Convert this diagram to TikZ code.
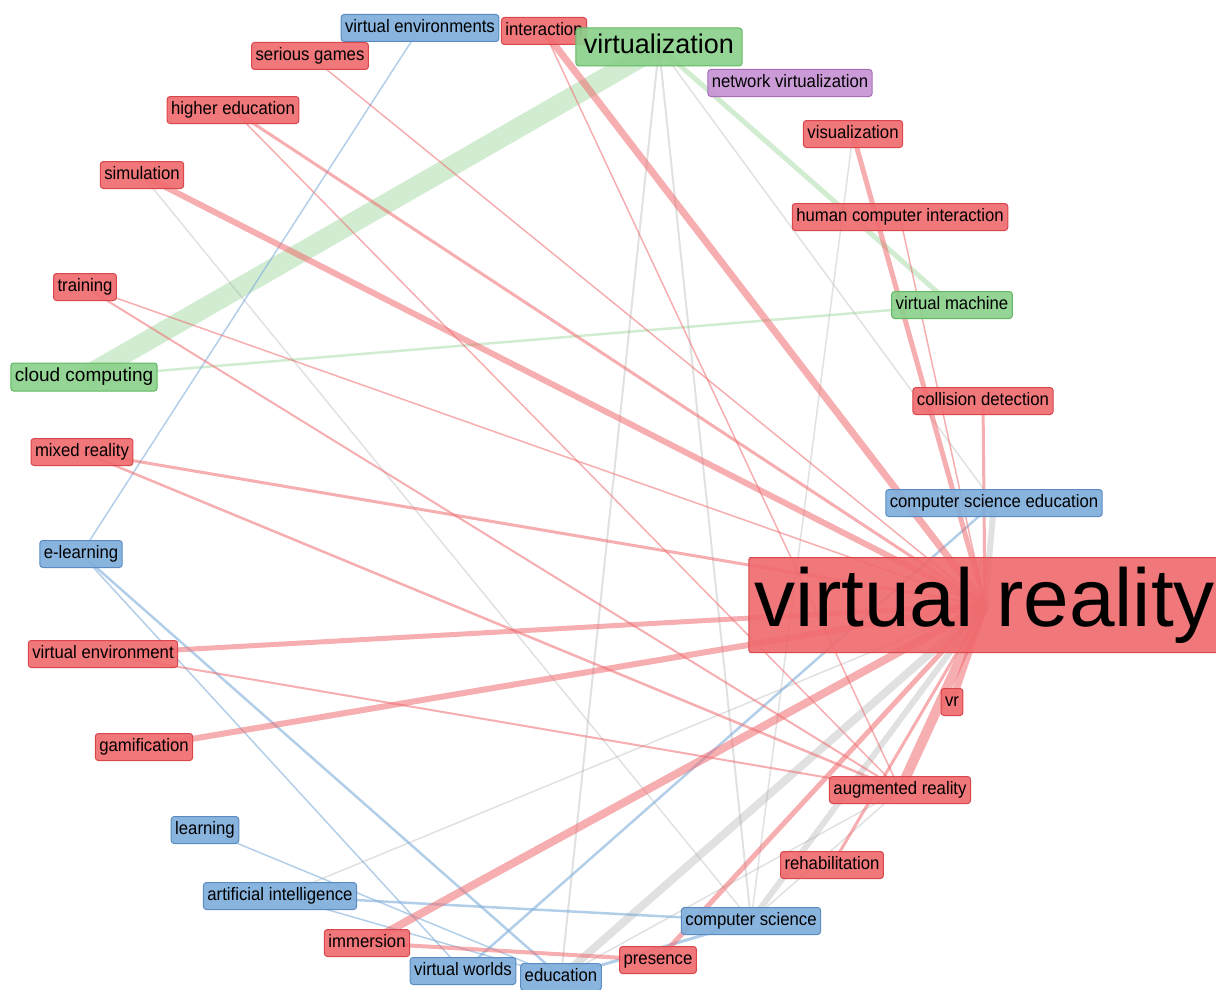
\documentclass[tikz,border=0pt]{standalone}
\usepackage{fontspec}
\setmainfont{Liberation Sans}
\newfontfamily\termfont[FakeStretch=0.93]{Liberation Sans}
\usetikzlibrary{backgrounds}
\definecolor{kwred}{HTML}{EF6B6F}
\definecolor{kwreddark}{HTML}{D9474D}
\definecolor{kwblue}{HTML}{7FAEDB}
\definecolor{kwbluedark}{HTML}{5A8CC2}
\definecolor{kwgreen}{HTML}{8BD08B}
\definecolor{kwgreendark}{HTML}{62B862}
\definecolor{kwpurple}{HTML}{C693D3}
\definecolor{kwpurpledark}{HTML}{A46FB6}
\definecolor{kwgray}{HTML}{A8A8A8}

\begin{document}
\begin{tikzpicture}[
    x=1pt, y=-1pt,
    term/.style={rectangle, rounded corners=3pt, line width=1pt, fill opacity=0.92, text opacity=1, inner xsep=4pt, inner ysep=0pt, minimum height=27pt, text height=13pt, text depth=3.5pt, font=\termfont\fontsize{18}{20}\selectfont},
    redterm/.style={term, draw=kwreddark, fill=kwred},
    blueterm/.style={term, draw=kwbluedark, fill=kwblue},
    greenterm/.style={term, draw=kwgreendark, fill=kwgreen},
    purpleterm/.style={term, draw=kwpurpledark, fill=kwpurple},
    bigterm/.style={font=\fontsize{27}{30}\selectfont, minimum height=38pt, text height=20pt, text depth=6pt, inner xsep=8pt},
    hugeterm/.style={font=\fontsize{82}{90}\selectfont, minimum height=95pt, text height=60pt, text depth=17pt, inner xsep=6pt, rounded corners=2pt},
    rlink/.style={draw=kwred, draw opacity=0.55},
    blink/.style={draw=kwblue, draw opacity=0.6},
    glink/.style={draw=kwgreen, draw opacity=0.4},
    xlink/.style={draw=kwgray, draw opacity=0.35}
]
\useasboundingbox (0,0) rectangle (1216,990);

\node[blueterm] (vrenvs) at (420,28) {virtual environments};
\node[redterm] (inter) at (544,31) {interaction};
\node[greenterm, bigterm] (virt) at (659,47) {virtualization};
\node[redterm] (sgames) at (310,56) {serious games};
\node[purpleterm] (netvirt) at (790,83) {network virtualization};
\node[redterm] (highed) at (233,110) {higher education};
\node[redterm] (visual) at (853,134) {visualization};
\node[redterm] (sim) at (142,175) {simulation};
\node[redterm] (hci) at (900,217) {human computer interaction};
\node[redterm] (train) at (85,287) {training};
\node[greenterm] (vm) at (952,305) {virtual machine};
\node[greenterm, font=\fontsize{19}{21}\selectfont, minimum height=28pt] (cloud) at (84,377) {cloud computing};
\node[redterm] (collision) at (983,401) {collision detection};
\node[redterm] (mixed) at (82,452) {mixed reality};
\node[blueterm] (cse) at (994,503) {computer science education};
\node[blueterm] (elearn) at (81,554) {e-learning};
\node[redterm, hugeterm] (vreal) at (985,605) {virtual reality};
\node[redterm] (venv) at (103,654) {virtual environment};
\node[redterm] (vrnode) at (952,702) {vr};
\node[redterm] (gamif) at (144,747) {gamification};
\node[redterm] (ar) at (900,790) {augmented reality};
\node[blueterm] (learn) at (205,830) {learning};
\node[redterm] (rehab) at (832,865) {rehabilitation};
\node[blueterm] (ai) at (280,896) {artificial intelligence};
\node[blueterm] (cs) at (751,921) {computer science};
\node[redterm] (immer) at (367,943) {immersion};
\node[redterm] (presence) at (658,960) {presence};
\node[blueterm] (vworlds) at (463,971) {virtual worlds};
\node[blueterm] (educ) at (561,977) {education};

\begin{scope}[on background layer]
    \draw[glink, line width=20] (virt.center) -- (cloud.center);
    \draw[glink, line width=5] (virt.center) -- (vm.center);
    \draw[glink, line width=2.5] (cloud.center) -- (vm.center);

    \draw[xlink, line width=2] (virt.center) -- (educ.center);
    \draw[xlink, line width=2] (virt.center) -- (cs.center);
    \draw[xlink, line width=1.5] (virt.center) -- (cse.center);
    \draw[xlink, line width=1.5] (visual.center) -- (cs.center);
    \draw[xlink, line width=1.5] (sim.center) -- (cs.center);
    \draw[xlink, line width=1.5] (ai.center) -- (vreal.center);
    \draw[xlink, line width=8] (educ.center) -- (vreal.center);
    \draw[xlink, line width=6] (cs.center) -- (vreal.center);
    \draw[xlink, line width=6] (cse.center) -- (vreal.center);
    \draw[xlink, line width=1.5] (educ.center) -- (ar.center);
    \draw[xlink, line width=1.5] (cs.center) -- (ar.center);

    \draw[blink, line width=1.5] (vrenvs.center) -- (elearn.center);
    \draw[blink, line width=1.5] (elearn.center) -- (vworlds.center);
    \draw[blink, line width=2.5] (elearn.center) -- (educ.center);
    \draw[blink, line width=1.5] (learn.center) -- (educ.center);
    \draw[blink, line width=2.5] (ai.center) -- (cs.center);
    \draw[blink, line width=1.5] (ai.center) -- (educ.center);
    \draw[blink, line width=2.5] (cse.center) -- (vworlds.center);
    \draw[blink, line width=3] (educ.center) -- (cs.center);

    \draw[rlink, line width=7] (inter.center) -- (vreal.center);
    \draw[rlink, line width=1.5] (inter.center) -- (ar.center);
    \draw[rlink, line width=1.5] (sgames.center) -- (vreal.center);
    \draw[rlink, line width=3] (highed.center) -- (vreal.center);
    \draw[rlink, line width=1.5] (highed.center) -- (ar.center);
    \draw[rlink, line width=6] (sim.center) -- (vreal.center);
    \draw[rlink, line width=2] (train.center) -- (ar.center);
    \draw[rlink, line width=1.5] (train.center) -- (vreal.center);
    \draw[rlink, line width=3] (mixed.center) -- (vreal.center);
    \draw[rlink, line width=2.5] (mixed.center) -- (ar.center);
    \draw[rlink, line width=5] (venv.center) -- (vreal.center);
    \draw[rlink, line width=2] (venv.center) -- (ar.center);
    \draw[rlink, line width=6] (gamif.center) -- (vreal.center);
    \draw[rlink, line width=8] (immer.center) -- (vreal.center);
    \draw[rlink, line width=4] (immer.center) -- (presence.center);
    \draw[rlink, line width=5] (presence.center) -- (vreal.center);
    \draw[rlink, line width=3] (rehab.center) -- (vreal.center);
    \draw[rlink, line width=7] (vrnode.center) -- (vreal.center);
    \draw[rlink, line width=10] (ar.center) -- (vreal.center);
    \draw[rlink, line width=5] (visual.center) -- (vreal.center);
    \draw[rlink, line width=1.5] (hci.center) -- (vreal.center);
    \draw[rlink, line width=3] (collision.center) -- (vreal.center);
\end{scope}
\end{tikzpicture}
\end{document}
